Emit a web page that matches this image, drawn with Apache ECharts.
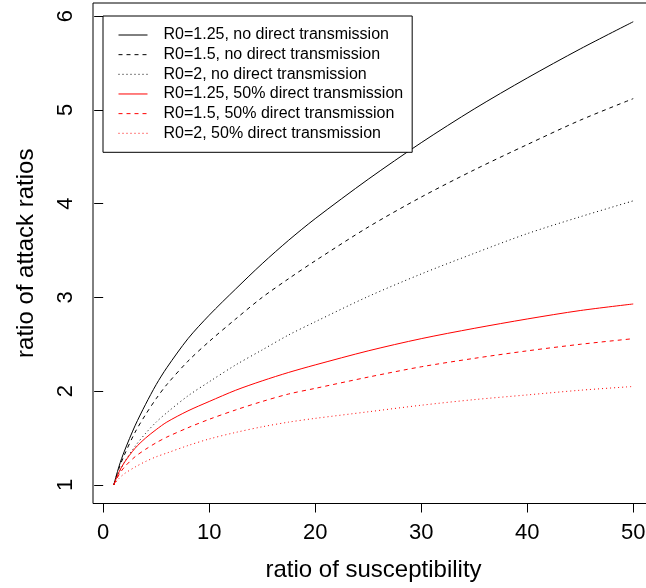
<!DOCTYPE html>
<html>
<head>
<meta charset="utf-8">
<script src="https://cdn.jsdelivr.net/npm/echarts@6/dist/echarts.min.js"></script>
<style>
html, body { margin: 0; padding: 0; background: #fff; }
#main { width: 646px; height: 588px; }
</style>
</head>
<body>
<div id="main"></div>
<script>
// ratio of susceptibility
var susc = [1, 1.5, 2, 3, 4, 5, 6, 8, 10, 12.5, 15, 17.5, 20, 25, 30, 35, 40, 45, 50];

// ratio of attack ratios
var r125_none = [1, 1.20, 1.36, 1.63, 1.86, 2.07, 2.25, 2.56, 2.81, 3.09, 3.36, 3.61, 3.84, 4.26, 4.65, 5.01, 5.34, 5.65, 5.94];
var r15_none  = [1, 1.18, 1.32, 1.56, 1.75, 1.92, 2.07, 2.32, 2.53, 2.77, 3.00, 3.20, 3.39, 3.75, 4.07, 4.36, 4.63, 4.89, 5.12];
var r2_none   = [1, 1.13, 1.24, 1.41, 1.55, 1.67, 1.77, 1.95, 2.10, 2.28, 2.44, 2.60, 2.74, 3.01, 3.25, 3.47, 3.68, 3.86, 4.03];
var r125_half = [1, 1.14, 1.24, 1.39, 1.50, 1.59, 1.67, 1.79, 1.89, 2.01, 2.11, 2.20, 2.28, 2.43, 2.56, 2.67, 2.77, 2.86, 2.93];
var r15_half  = [1, 1.11, 1.19, 1.30, 1.38, 1.45, 1.51, 1.61, 1.70, 1.80, 1.89, 1.97, 2.03, 2.15, 2.26, 2.35, 2.43, 2.50, 2.56];
var r2_half   = [1, 1.07, 1.12, 1.19, 1.25, 1.30, 1.34, 1.42, 1.49, 1.56, 1.62, 1.67, 1.71, 1.78, 1.85, 1.91, 1.96, 2.01, 2.05];

var names = [
  'R0=1.25, no direct transmission',
  'R0=1.5, no direct transmission',
  'R0=2, no direct transmission',
  'R0=1.25, 50% direct transmission',
  'R0=1.5, 50% direct transmission',
  'R0=2, 50% direct transmission'
];

var xTicks = [0, 10, 20, 30, 40, 50];
var yTicks = [1, 2, 3, 4, 5, 6];

var font = 'Liberation Sans, Arial, sans-serif';

function pairs(ys) {
  return susc.map(function (x, i) { return [x, ys[i]]; });
}

function line(name, ys, color, dash) {
  return {
    name: name,
    type: 'line',
    data: pairs(ys),
    showSymbol: false,
    symbol: 'none',
    smooth: 0.3,
    lineStyle: { color: color, width: 1, type: dash },
    itemStyle: { color: color }
  };
}

var myChart = echarts.init(document.getElementById('main'));
myChart.setOption({
  animation: false,
  backgroundColor: '#fff',
  textStyle: { fontFamily: font },
  grid: {
    left: 93,
    top: 3,
    width: 561,
    height: 500.5,
    show: true,
    borderColor: '#000',
    borderWidth: 1,
    containLabel: false,
    outerBoundsMode: 'none'
  },
  legend: {
    data: names,
    orient: 'vertical',
    left: 103,
    top: 16,
    itemWidth: 29,
    itemHeight: 18,
    itemGap: 1.66,
    padding: [10, 9, 10, 15],
    backgroundColor: '#fff',
    borderColor: '#000',
    borderWidth: 1,
    borderRadius: 0,
    selectedMode: false,
    itemStyle: { opacity: 0 },
    lineStyle: { width: 1 },
    textStyle: {
      fontFamily: font,
      fontSize: 16,
      color: '#000',
      lineHeight: 18,
      padding: [0, 0, 0, 11]
    }
  },
  xAxis: {
    type: 'value',
    min: -0.96,
    max: 51.96,
    name: 'ratio of susceptibility',
    nameLocation: 'middle',
    nameGap: 55,
    nameTextStyle: { fontFamily: font, fontSize: 24, color: '#000' },
    axisLine: { show: false },
    axisTick: { show: true, length: 9, lineStyle: { color: '#000' }, customValues: xTicks },
    axisLabel: { fontFamily: font, fontSize: 22, color: '#000', margin: 18, customValues: xTicks },
    splitLine: { show: false }
  },
  yAxis: {
    type: 'value',
    min: 0.802,
    max: 6.14,
    name: 'ratio of attack ratios',
    nameLocation: 'middle',
    nameGap: 55,
    nameTextStyle: { fontFamily: font, fontSize: 24, color: '#000' },
    axisLine: { show: false },
    axisTick: { show: true, length: 9, lineStyle: { color: '#000' }, customValues: yTicks },
    axisLabel: { fontFamily: font, fontSize: 22, color: '#000', margin: 16, rotate: 90, customValues: yTicks },
    splitLine: { show: false }
  },
  series: [
    line(names[0], r125_none, '#000000', 'solid'),
    line(names[1], r15_none, '#000000', [4, 4]),
    line(names[2], r2_none, '#000000', [1, 3]),
    line(names[3], r125_half, '#ff0000', 'solid'),
    line(names[4], r15_half, '#ff0000', [4, 4]),
    line(names[5], r2_half, '#ff0000', [1, 3])
  ]
});
</script>
</body>
</html>
